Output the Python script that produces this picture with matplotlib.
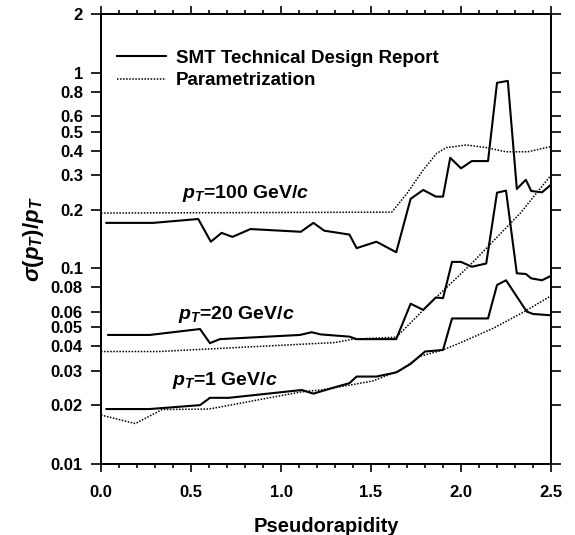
import matplotlib
matplotlib.use("Agg")
import matplotlib.pyplot as plt
from matplotlib.ticker import FixedLocator, MultipleLocator, NullFormatter

plt.rcParams["font.family"] = ["Liberation Sans", "DejaVu Sans"]
plt.rcParams["font.weight"] = "bold"
plt.rcParams["mathtext.fontset"] = "custom"
plt.rcParams["mathtext.rm"] = "Liberation Sans:bold"
plt.rcParams["mathtext.it"] = "Liberation Sans:italic:bold"
plt.rcParams["mathtext.bf"] = "Liberation Sans:bold"

# SMT TDR curves
eta_smt100 = [0.03, 0.29, 0.54, 0.61, 0.67, 0.73, 0.83, 1.11, 1.18, 1.24, 1.38, 1.42, 1.53, 1.64,
              1.72, 1.79, 1.86, 1.90, 1.94, 2.00, 2.06, 2.15, 2.20, 2.26, 2.31, 2.36, 2.39, 2.45, 2.50]
sig_smt100 = [0.171, 0.171, 0.179, 0.137, 0.152, 0.145, 0.159, 0.154, 0.171, 0.156, 0.149, 0.127, 0.137, 0.121,
              0.227, 0.252, 0.233, 0.233, 0.368, 0.325, 0.354, 0.354, 0.89, 0.91, 0.255, 0.284, 0.249, 0.245, 0.268]

eta_smt20 = [0.04, 0.27, 0.55, 0.605, 0.66, 1.105, 1.17, 1.22, 1.38, 1.42, 1.64, 1.72, 1.79, 1.86,
             1.90, 1.95, 2.00, 2.06, 2.14, 2.20, 2.25, 2.31, 2.36, 2.39, 2.45, 2.50]
sig_smt20 = [0.0457, 0.0457, 0.049, 0.0415, 0.0435, 0.0457, 0.0472, 0.046, 0.0448, 0.0435, 0.0435, 0.066, 0.0614, 0.071,
             0.0705, 0.108, 0.108, 0.102, 0.106, 0.244, 0.25, 0.0944, 0.0937, 0.089, 0.087, 0.0917]

eta_smt1 = [0.03, 0.27, 0.55, 0.605, 0.71, 1.115, 1.18, 1.30, 1.38, 1.42, 1.53, 1.64, 1.72, 1.80,
            1.90, 1.95, 2.15, 2.20, 2.25, 2.365, 2.40, 2.50]
sig_smt1 = [0.0191, 0.0191, 0.0200, 0.0218, 0.0218, 0.0239, 0.0229, 0.0247, 0.0259, 0.0280, 0.0280, 0.0294, 0.0325, 0.0376,
            0.0383, 0.0555, 0.0555, 0.0823, 0.087, 0.0602, 0.0585, 0.0576]

# parametrization curves
eta_par100 = [0.0, 1.615, 1.70, 1.79, 1.865, 1.92, 2.03, 2.14, 2.25, 2.37, 2.50]
sig_par100 = [0.192, 0.194, 0.242, 0.319, 0.388, 0.415, 0.428, 0.415, 0.395, 0.395, 0.42]

eta_par20 = [0.0, 0.32, 1.30, 1.40, 1.64, 1.83, 2.05, 2.33, 2.50]
sig_par20 = [0.0376, 0.0376, 0.0418, 0.0435, 0.0445, 0.0667, 0.104, 0.192, 0.30]

eta_par1 = [0.0, 0.19, 0.34, 0.60, 1.115, 1.22, 1.38, 1.51, 1.66, 1.77, 1.90, 2.01, 2.18, 2.35, 2.50]
sig_par1 = [0.0178, 0.0161, 0.0190, 0.0191, 0.0234, 0.0239, 0.0253, 0.0266, 0.0300, 0.0355, 0.0383, 0.0422, 0.0495, 0.060, 0.0725]

ytick_vals = [0.01, 0.02, 0.03, 0.04, 0.05, 0.06, 0.08, 0.1, 0.2, 0.3, 0.4, 0.5, 0.6, 0.8, 1, 2]
ytick_labels = ["0.01", "0.02", "0.03", "0.04", "0.05", "0.06", "0.08", "0.1",
                "0.2", "0.3", "0.4", "0.5", "0.6", "0.8", "1", "2"]

fig = plt.figure(figsize=(5.75, 5.35), dpi=100)
ax = fig.add_axes([0.1757, 0.1327, 0.7826, 0.8411])

dot = (0, (1.0, 1.0))
ax.plot(eta_smt100, sig_smt100, color="black", lw=1.5, label="SMT Technical Design Report")
ax.plot(eta_par100, sig_par100, color="black", lw=1.1, ls=dot, label="Parametrization")
ax.plot(eta_smt20, sig_smt20, color="black", lw=1.5)
ax.plot(eta_par20, sig_par20, color="black", lw=1.1, ls=dot)
ax.plot(eta_smt1, sig_smt1, color="black", lw=1.5)
ax.plot(eta_par1, sig_par1, color="black", lw=1.1, ls=dot)

ax.set_yscale("log")
ax.set_xlim(0.0, 2.5)
ax.set_ylim(0.01, 2)
ax.yaxis.set_major_locator(FixedLocator(ytick_vals))
ax.yaxis.set_minor_locator(FixedLocator([]))
ax.set_yticklabels(ytick_labels)
ax.yaxis.set_minor_formatter(NullFormatter())
ax.xaxis.set_major_locator(MultipleLocator(0.5))
ax.xaxis.set_minor_locator(MultipleLocator(0.1))
ax.xaxis.set_major_formatter(plt.FuncFormatter(lambda v, p: f"{v:.1f}"))

ax.tick_params(which="both", direction="out", top=True, right=True, labelsize=12, width=1.2)
ax.tick_params(which="major", length=6)
ax.tick_params(which="minor", length=3)
ax.tick_params(axis="x", which="major", pad=9)
ax.tick_params(axis="y", which="major", length=7, pad=6)
for s in ax.spines.values():
    s.set_linewidth(1.4)

ax.set_xlabel("Pseudorapidity", fontsize=14.5, fontweight="bold", labelpad=12)
ax.set_ylabel(r"$\sigma(p_T)/p_T$", fontsize=16, labelpad=3.5)

ax.text(0.45, 0.243, r"$p_T$=100 GeV/$c$", fontsize=14, ha="left", va="center")
ax.text(0.428, 0.058, r"$p_T$=20 GeV/$c$", fontsize=14, ha="left", va="center")
ax.text(0.394, 0.0268, r"$p_T$=1 GeV/$c$", fontsize=14, ha="left", va="center")

leg = ax.legend(loc="upper left", bbox_to_anchor=(0.035, 0.921), frameon=False, fontsize=13.5,
                handlelength=2.6, handletextpad=0.55, labelspacing=0.3, borderpad=0, borderaxespad=0)

fig.savefig("out.png", dpi=100)
